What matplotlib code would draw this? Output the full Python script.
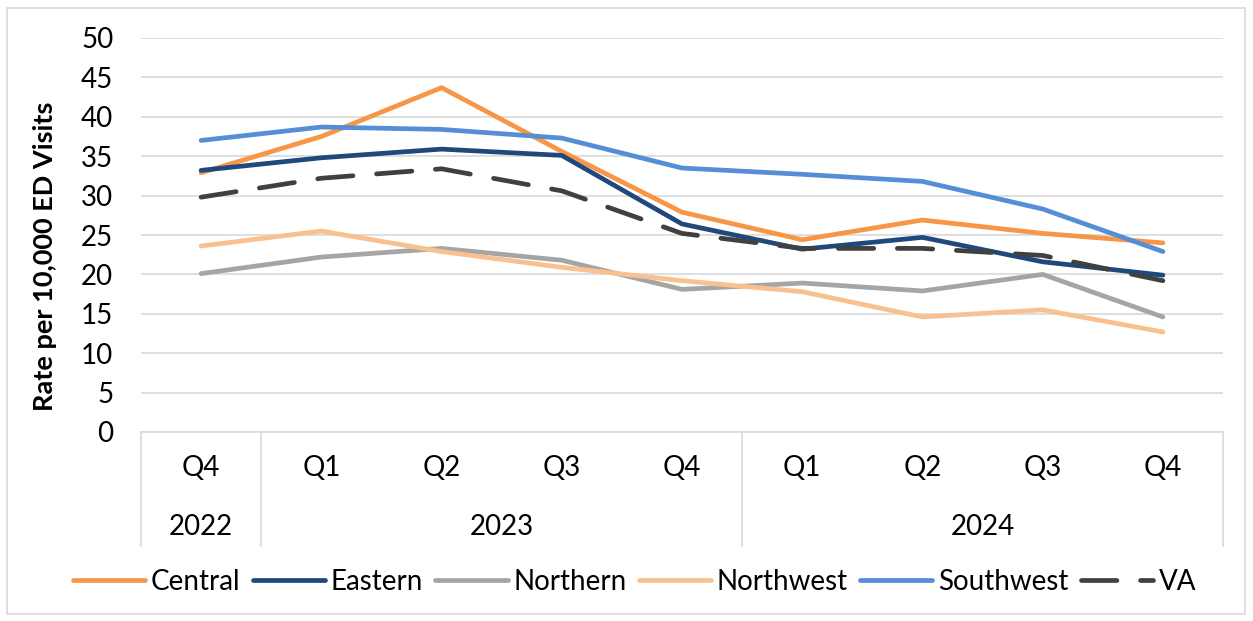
import matplotlib
matplotlib.use("Agg")
import matplotlib.pyplot as plt
from matplotlib.lines import Line2D
from matplotlib.patches import Rectangle
import matplotlib.transforms as mtransforms

plt.rcParams['font.family'] = ['Lato', 'DejaVu Sans']

quarters = ["Q4", "Q1", "Q2", "Q3", "Q4", "Q1", "Q2", "Q3", "Q4"]
years = ["2022", "2023", "2024"]
year_spans = [(0, 0), (1, 4), (5, 8)]

central   = [32.9, 37.5, 43.7, 35.6, 27.9, 24.4, 26.9, 25.2, 24.0]
eastern   = [33.2, 34.8, 35.9, 35.1, 26.4, 23.2, 24.7, 21.6, 19.9]
northern  = [20.1, 22.2, 23.3, 21.8, 18.1, 18.9, 17.9, 20.0, 14.6]
northwest = [23.6, 25.5, 22.9, 20.9, 19.2, 17.8, 14.6, 15.5, 12.7]
southwest = [37.0, 38.7, 38.4, 37.3, 33.5, 32.7, 31.8, 28.3, 22.9]
va        = [29.8, 32.2, 33.4, 30.6, 25.2, 23.3, 23.3, 22.4, 19.2]

series = [
    ("Central", central, "#F79646", "-"),
    ("Eastern", eastern, "#1F497D", "-"),
    ("Northern", northern, "#A5A5A5", "-"),
    ("Northwest", northwest, "#FAC090", "-"),
    ("Southwest", southwest, "#558ED5", "-"),
    ("VA", va, "#404040", "--"),
]

W, H = 1253, 621
fig = plt.figure(figsize=(W / 100, H / 100), dpi=100)
fig.patches.append(Rectangle((7 / W, 7 / H), (1245 - 7) / W, (613 - 7) / H,
                             transform=fig.transFigure, fill=False,
                             edgecolor="#D9D9D9", linewidth=1.2))

left, right, top, bottom = 141, 1223, 38, 432
ax = fig.add_axes([left / W, 1 - bottom / H, (right - left) / W, (bottom - top) / H])

x = list(range(len(quarters)))
lw = 3.4
handles = []
for name, vals, color, ls in series:
    if ls == "--":
        ln, = ax.plot(x, vals, color=color, linewidth=lw, solid_capstyle="round",
                      dash_capstyle="round", dashes=(7.5, 5.0), zorder=3)
    else:
        ln, = ax.plot(x, vals, color=color, linewidth=lw, solid_capstyle="round",
                      zorder=3)
    handles.append(ln)

FS = 20
ax.set_xlim(-0.5, len(quarters) - 0.5)
ax.set_ylim(0, 50)
ax.set_yticks(range(0, 51, 5))
ax.tick_params(axis="y", length=0, pad=20, labelsize=FS)
ax.set_xticks([])
for s in ["top", "right", "left"]:
    ax.spines[s].set_visible(False)
ax.spines["bottom"].set_color("#D9D9D9")
ax.spines["bottom"].set_linewidth(1.2)
ax.grid(axis="y", color="#D9D9D9", linewidth=1.2)
ax.set_axisbelow(True)

ax.set_ylabel("Rate per 10,000 ED Visits", fontsize=19.5, fontweight="bold")
ax.yaxis.set_label_coords(-0.078, 0.447)

trans = mtransforms.blended_transform_factory(ax.transData, ax.transAxes)
ph = bottom - top
for i, q in enumerate(quarters):
    ax.text(i, -(468 - bottom) / ph, q, transform=trans, ha="center", va="center",
            fontsize=FS)
for yr, (a, b) in zip(years, year_spans):
    ax.text((a + b) / 2, -(527 - bottom) / ph, yr, transform=trans, ha="center",
            va="center", fontsize=FS)
for bx in [-0.5, 0.5, 4.5, 8.5]:
    ax.add_line(Line2D([bx, bx], [0, -(546 - bottom) / ph], transform=trans,
                       color="#D9D9D9", linewidth=1.2, clip_on=False))

leg = fig.legend(handles, [s[0] for s in series], loc="center",
                 bbox_to_anchor=(634.5 / W, 1 - 582 / H), ncol=6, frameon=False,
                 fontsize=FS, handlelength=2.6, handletextpad=0.2,
                 columnspacing=0.45)

fig.savefig("out.png", dpi=100)
